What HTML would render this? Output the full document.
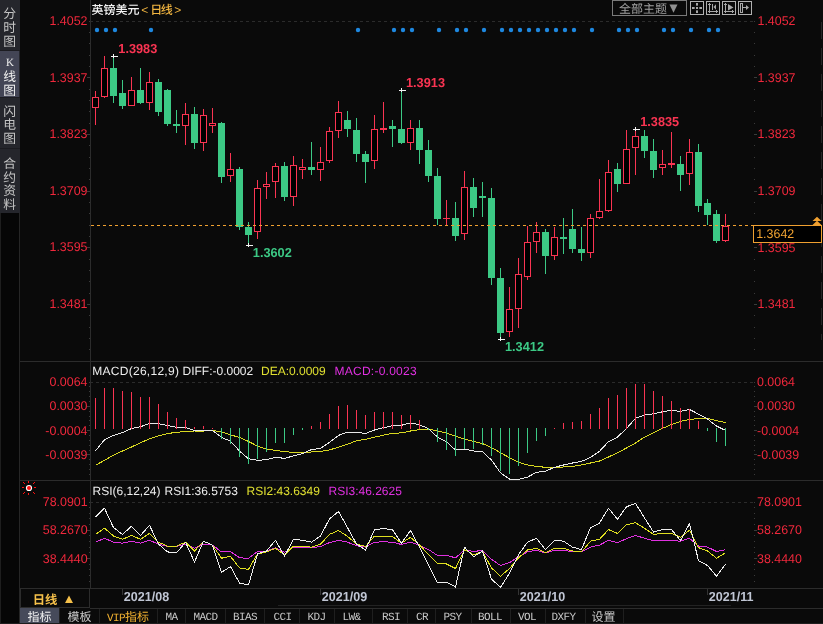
<!DOCTYPE html>
<html><head><meta charset="utf-8"><title>英镑美元</title>
<style>html,body{margin:0;padding:0;background:#0a0a0a;overflow:hidden;}svg{display:block;}</style>
</head><body>
<svg width="823" height="624" viewBox="0 0 823 624" shape-rendering="crispEdges" text-rendering="geometricPrecision">
<rect width="823" height="624" fill="#0a0a0a"/>
<rect x="0" y="0" width="20" height="213" fill="#25262c"/>
<rect x="0" y="51" width="19" height="46" fill="#434555"/>
<rect x="0" y="50" width="20" height="1" fill="#1c1c21"/>
<rect x="0" y="97" width="20" height="1" fill="#1c1c21"/>
<rect x="0" y="148" width="20" height="1" fill="#1c1c21"/>
<rect x="19" y="213" width="1" height="411" fill="#262626"/>
<rect x="0" y="213" width="19" height="411" fill="#060606"/>
<rect x="0" y="213" width="1" height="411" fill="#1e1e1e"/>
<text x="9.7" y="18" fill="#c4c4c4" font-size="12.8" text-anchor="middle" font-weight="normal" font-family="'Liberation Sans', 'Noto Sans CJK SC', sans-serif" >分</text>
<text x="9.7" y="32" fill="#c4c4c4" font-size="12.8" text-anchor="middle" font-weight="normal" font-family="'Liberation Sans', 'Noto Sans CJK SC', sans-serif" >时</text>
<text x="9.7" y="46.2" fill="#c4c4c4" font-size="12.8" text-anchor="middle" font-weight="normal" font-family="'Liberation Sans', 'Noto Sans CJK SC', sans-serif" >图</text>
<text x="10" y="66" fill="#eeeeee" font-size="11" text-anchor="middle" font-weight="normal" font-family="'Liberation Serif', serif" >K</text>
<text x="9.7" y="81" fill="#eeeeee" font-size="12.8" text-anchor="middle" font-weight="normal" font-family="'Liberation Sans', 'Noto Sans CJK SC', sans-serif" >线</text>
<text x="9.7" y="95" fill="#eeeeee" font-size="12.8" text-anchor="middle" font-weight="normal" font-family="'Liberation Sans', 'Noto Sans CJK SC', sans-serif" >图</text>
<text x="9.7" y="116" fill="#c4c4c4" font-size="12.8" text-anchor="middle" font-weight="normal" font-family="'Liberation Sans', 'Noto Sans CJK SC', sans-serif" >闪</text>
<text x="9.7" y="129" fill="#c4c4c4" font-size="12.8" text-anchor="middle" font-weight="normal" font-family="'Liberation Sans', 'Noto Sans CJK SC', sans-serif" >电</text>
<text x="9.7" y="142.5" fill="#c4c4c4" font-size="12.8" text-anchor="middle" font-weight="normal" font-family="'Liberation Sans', 'Noto Sans CJK SC', sans-serif" >图</text>
<text x="9.7" y="167.8" fill="#c4c4c4" font-size="12.8" text-anchor="middle" font-weight="normal" font-family="'Liberation Sans', 'Noto Sans CJK SC', sans-serif" >合</text>
<text x="9.7" y="181.6" fill="#c4c4c4" font-size="12.8" text-anchor="middle" font-weight="normal" font-family="'Liberation Sans', 'Noto Sans CJK SC', sans-serif" >约</text>
<text x="9.7" y="195.4" fill="#c4c4c4" font-size="12.8" text-anchor="middle" font-weight="normal" font-family="'Liberation Sans', 'Noto Sans CJK SC', sans-serif" >资</text>
<text x="9.7" y="209.3" fill="#c4c4c4" font-size="12.8" text-anchor="middle" font-weight="normal" font-family="'Liberation Sans', 'Noto Sans CJK SC', sans-serif" >料</text>
<rect x="90" y="0" width="1" height="588" fill="#2c2c2c"/>
<rect x="89" y="588" width="1" height="19" fill="#2c2c2c"/>
<rect x="20" y="361" width="803" height="1" fill="#2c2c2c"/>
<rect x="20" y="480" width="803" height="1" fill="#2c2c2c"/>
<rect x="20" y="588" width="803" height="1" fill="#2c2c2c"/>
<rect x="20" y="607" width="70" height="1" fill="#2c2c2c"/>
<rect x="90" y="608" width="733" height="1" fill="#2c2c2c"/>
<rect x="278" y="605" width="453" height="1" fill="#222"/>
<line x1="821.5" y1="22" x2="821.5" y2="340" stroke="#262626" stroke-width="1" stroke-dasharray="17 9"/>
<line x1="90" y1="21.5" x2="753" y2="21.5" stroke="#2b2b2b" stroke-width="1" stroke-dasharray="3 3"/>
<line x1="90" y1="382.5" x2="753" y2="382.5" stroke="#2b2b2b" stroke-width="1" stroke-dasharray="3 3"/>
<line x1="90" y1="502.5" x2="753" y2="502.5" stroke="#2b2b2b" stroke-width="1" stroke-dasharray="3 3"/>
<rect x="89" y="21" width="1" height="1" fill="#3a3a3a"/><rect x="89" y="32" width="1" height="1" fill="#3a3a3a"/><rect x="89" y="43" width="1" height="1" fill="#3a3a3a"/><rect x="89" y="55" width="1" height="1" fill="#3a3a3a"/><rect x="89" y="66" width="1" height="1" fill="#3a3a3a"/><rect x="87" y="77" width="3" height="1" fill="#3a3a3a"/><rect x="89" y="89" width="1" height="1" fill="#3a3a3a"/><rect x="89" y="100" width="1" height="1" fill="#3a3a3a"/><rect x="89" y="111" width="1" height="1" fill="#3a3a3a"/><rect x="89" y="123" width="1" height="1" fill="#3a3a3a"/><rect x="87" y="134" width="3" height="1" fill="#3a3a3a"/><rect x="89" y="145" width="1" height="1" fill="#3a3a3a"/><rect x="89" y="157" width="1" height="1" fill="#3a3a3a"/><rect x="89" y="168" width="1" height="1" fill="#3a3a3a"/><rect x="89" y="179" width="1" height="1" fill="#3a3a3a"/><rect x="87" y="191" width="3" height="1" fill="#3a3a3a"/><rect x="89" y="202" width="1" height="1" fill="#3a3a3a"/><rect x="89" y="213" width="1" height="1" fill="#3a3a3a"/><rect x="89" y="225" width="1" height="1" fill="#3a3a3a"/><rect x="89" y="236" width="1" height="1" fill="#3a3a3a"/><rect x="87" y="247" width="3" height="1" fill="#3a3a3a"/><rect x="89" y="259" width="1" height="1" fill="#3a3a3a"/><rect x="89" y="270" width="1" height="1" fill="#3a3a3a"/><rect x="89" y="281" width="1" height="1" fill="#3a3a3a"/><rect x="89" y="293" width="1" height="1" fill="#3a3a3a"/><rect x="87" y="304" width="3" height="1" fill="#3a3a3a"/><rect x="89" y="315" width="1" height="1" fill="#3a3a3a"/><rect x="89" y="327" width="1" height="1" fill="#3a3a3a"/><rect x="89" y="338" width="1" height="1" fill="#3a3a3a"/><rect x="89" y="349" width="1" height="1" fill="#3a3a3a"/>
<rect x="754" y="21" width="1" height="1" fill="#3a3a3a"/><rect x="754" y="32" width="1" height="1" fill="#3a3a3a"/><rect x="754" y="43" width="1" height="1" fill="#3a3a3a"/><rect x="754" y="55" width="1" height="1" fill="#3a3a3a"/><rect x="754" y="66" width="1" height="1" fill="#3a3a3a"/><rect x="754" y="77" width="3" height="1" fill="#3a3a3a"/><rect x="754" y="89" width="1" height="1" fill="#3a3a3a"/><rect x="754" y="100" width="1" height="1" fill="#3a3a3a"/><rect x="754" y="111" width="1" height="1" fill="#3a3a3a"/><rect x="754" y="123" width="1" height="1" fill="#3a3a3a"/><rect x="754" y="134" width="3" height="1" fill="#3a3a3a"/><rect x="754" y="145" width="1" height="1" fill="#3a3a3a"/><rect x="754" y="157" width="1" height="1" fill="#3a3a3a"/><rect x="754" y="168" width="1" height="1" fill="#3a3a3a"/><rect x="754" y="179" width="1" height="1" fill="#3a3a3a"/><rect x="754" y="191" width="3" height="1" fill="#3a3a3a"/><rect x="754" y="202" width="1" height="1" fill="#3a3a3a"/><rect x="754" y="213" width="1" height="1" fill="#3a3a3a"/><rect x="754" y="225" width="1" height="1" fill="#3a3a3a"/><rect x="754" y="236" width="1" height="1" fill="#3a3a3a"/><rect x="754" y="247" width="3" height="1" fill="#3a3a3a"/><rect x="754" y="259" width="1" height="1" fill="#3a3a3a"/><rect x="754" y="270" width="1" height="1" fill="#3a3a3a"/><rect x="754" y="281" width="1" height="1" fill="#3a3a3a"/><rect x="754" y="293" width="1" height="1" fill="#3a3a3a"/><rect x="754" y="304" width="3" height="1" fill="#3a3a3a"/><rect x="754" y="315" width="1" height="1" fill="#3a3a3a"/><rect x="754" y="327" width="1" height="1" fill="#3a3a3a"/><rect x="754" y="338" width="1" height="1" fill="#3a3a3a"/><rect x="754" y="349" width="1" height="1" fill="#3a3a3a"/>
<rect x="89" y="382" width="1" height="1" fill="#3a3a3a"/><rect x="89" y="386" width="1" height="1" fill="#3a3a3a"/><rect x="89" y="391" width="1" height="1" fill="#3a3a3a"/><rect x="89" y="396" width="1" height="1" fill="#3a3a3a"/><rect x="89" y="401" width="1" height="1" fill="#3a3a3a"/><rect x="87" y="406" width="3" height="1" fill="#3a3a3a"/><rect x="89" y="411" width="1" height="1" fill="#3a3a3a"/><rect x="89" y="416" width="1" height="1" fill="#3a3a3a"/><rect x="89" y="420" width="1" height="1" fill="#3a3a3a"/><rect x="89" y="425" width="1" height="1" fill="#3a3a3a"/><rect x="87" y="430" width="3" height="1" fill="#3a3a3a"/><rect x="89" y="435" width="1" height="1" fill="#3a3a3a"/><rect x="89" y="440" width="1" height="1" fill="#3a3a3a"/><rect x="89" y="445" width="1" height="1" fill="#3a3a3a"/><rect x="89" y="450" width="1" height="1" fill="#3a3a3a"/><rect x="87" y="454" width="3" height="1" fill="#3a3a3a"/><rect x="89" y="459" width="1" height="1" fill="#3a3a3a"/><rect x="89" y="464" width="1" height="1" fill="#3a3a3a"/><rect x="89" y="469" width="1" height="1" fill="#3a3a3a"/><rect x="89" y="474" width="1" height="1" fill="#3a3a3a"/>
<rect x="754" y="382" width="1" height="1" fill="#3a3a3a"/><rect x="754" y="386" width="1" height="1" fill="#3a3a3a"/><rect x="754" y="391" width="1" height="1" fill="#3a3a3a"/><rect x="754" y="396" width="1" height="1" fill="#3a3a3a"/><rect x="754" y="401" width="1" height="1" fill="#3a3a3a"/><rect x="754" y="406" width="3" height="1" fill="#3a3a3a"/><rect x="754" y="411" width="1" height="1" fill="#3a3a3a"/><rect x="754" y="416" width="1" height="1" fill="#3a3a3a"/><rect x="754" y="420" width="1" height="1" fill="#3a3a3a"/><rect x="754" y="425" width="1" height="1" fill="#3a3a3a"/><rect x="754" y="430" width="3" height="1" fill="#3a3a3a"/><rect x="754" y="435" width="1" height="1" fill="#3a3a3a"/><rect x="754" y="440" width="1" height="1" fill="#3a3a3a"/><rect x="754" y="445" width="1" height="1" fill="#3a3a3a"/><rect x="754" y="450" width="1" height="1" fill="#3a3a3a"/><rect x="754" y="454" width="3" height="1" fill="#3a3a3a"/><rect x="754" y="459" width="1" height="1" fill="#3a3a3a"/><rect x="754" y="464" width="1" height="1" fill="#3a3a3a"/><rect x="754" y="469" width="1" height="1" fill="#3a3a3a"/><rect x="754" y="474" width="1" height="1" fill="#3a3a3a"/>
<rect x="89" y="502" width="1" height="1" fill="#3a3a3a"/><rect x="89" y="507" width="1" height="1" fill="#3a3a3a"/><rect x="89" y="513" width="1" height="1" fill="#3a3a3a"/><rect x="89" y="518" width="1" height="1" fill="#3a3a3a"/><rect x="89" y="524" width="1" height="1" fill="#3a3a3a"/><rect x="87" y="530" width="3" height="1" fill="#3a3a3a"/><rect x="89" y="535" width="1" height="1" fill="#3a3a3a"/><rect x="89" y="541" width="1" height="1" fill="#3a3a3a"/><rect x="89" y="547" width="1" height="1" fill="#3a3a3a"/><rect x="89" y="552" width="1" height="1" fill="#3a3a3a"/><rect x="87" y="558" width="3" height="1" fill="#3a3a3a"/><rect x="89" y="564" width="1" height="1" fill="#3a3a3a"/><rect x="89" y="569" width="1" height="1" fill="#3a3a3a"/><rect x="89" y="575" width="1" height="1" fill="#3a3a3a"/><rect x="89" y="581" width="1" height="1" fill="#3a3a3a"/>
<rect x="754" y="502" width="1" height="1" fill="#3a3a3a"/><rect x="754" y="507" width="1" height="1" fill="#3a3a3a"/><rect x="754" y="513" width="1" height="1" fill="#3a3a3a"/><rect x="754" y="518" width="1" height="1" fill="#3a3a3a"/><rect x="754" y="524" width="1" height="1" fill="#3a3a3a"/><rect x="754" y="530" width="3" height="1" fill="#3a3a3a"/><rect x="754" y="535" width="1" height="1" fill="#3a3a3a"/><rect x="754" y="541" width="1" height="1" fill="#3a3a3a"/><rect x="754" y="547" width="1" height="1" fill="#3a3a3a"/><rect x="754" y="552" width="1" height="1" fill="#3a3a3a"/><rect x="754" y="558" width="3" height="1" fill="#3a3a3a"/><rect x="754" y="564" width="1" height="1" fill="#3a3a3a"/><rect x="754" y="569" width="1" height="1" fill="#3a3a3a"/><rect x="754" y="575" width="1" height="1" fill="#3a3a3a"/><rect x="754" y="581" width="1" height="1" fill="#3a3a3a"/>
<circle cx="97" cy="30" r="2.2" fill="#1e88e0" shape-rendering="geometricPrecision"/>
<circle cx="106" cy="30" r="2.2" fill="#1e88e0" shape-rendering="geometricPrecision"/>
<circle cx="115" cy="30" r="2.2" fill="#1e88e0" shape-rendering="geometricPrecision"/>
<circle cx="151" cy="30" r="2.2" fill="#1e88e0" shape-rendering="geometricPrecision"/>
<circle cx="358" cy="30" r="2.2" fill="#1e88e0" shape-rendering="geometricPrecision"/>
<circle cx="394" cy="30" r="2.2" fill="#1e88e0" shape-rendering="geometricPrecision"/>
<circle cx="403" cy="30" r="2.2" fill="#1e88e0" shape-rendering="geometricPrecision"/>
<circle cx="412" cy="30" r="2.2" fill="#1e88e0" shape-rendering="geometricPrecision"/>
<circle cx="439" cy="30" r="2.2" fill="#1e88e0" shape-rendering="geometricPrecision"/>
<circle cx="457" cy="30" r="2.2" fill="#1e88e0" shape-rendering="geometricPrecision"/>
<circle cx="466" cy="30" r="2.2" fill="#1e88e0" shape-rendering="geometricPrecision"/>
<circle cx="484" cy="30" r="2.2" fill="#1e88e0" shape-rendering="geometricPrecision"/>
<circle cx="502" cy="30" r="2.2" fill="#1e88e0" shape-rendering="geometricPrecision"/>
<circle cx="511" cy="30" r="2.2" fill="#1e88e0" shape-rendering="geometricPrecision"/>
<circle cx="520" cy="30" r="2.2" fill="#1e88e0" shape-rendering="geometricPrecision"/>
<circle cx="529" cy="30" r="2.2" fill="#1e88e0" shape-rendering="geometricPrecision"/>
<circle cx="538" cy="30" r="2.2" fill="#1e88e0" shape-rendering="geometricPrecision"/>
<circle cx="547" cy="30" r="2.2" fill="#1e88e0" shape-rendering="geometricPrecision"/>
<circle cx="556" cy="30" r="2.2" fill="#1e88e0" shape-rendering="geometricPrecision"/>
<circle cx="565" cy="30" r="2.2" fill="#1e88e0" shape-rendering="geometricPrecision"/>
<circle cx="574" cy="30" r="2.2" fill="#1e88e0" shape-rendering="geometricPrecision"/>
<circle cx="592" cy="30" r="2.2" fill="#1e88e0" shape-rendering="geometricPrecision"/>
<circle cx="619" cy="30" r="2.2" fill="#1e88e0" shape-rendering="geometricPrecision"/>
<circle cx="628" cy="30" r="2.2" fill="#1e88e0" shape-rendering="geometricPrecision"/>
<circle cx="637" cy="30" r="2.2" fill="#1e88e0" shape-rendering="geometricPrecision"/>
<circle cx="664" cy="30" r="2.2" fill="#1e88e0" shape-rendering="geometricPrecision"/>
<circle cx="673" cy="30" r="2.2" fill="#1e88e0" shape-rendering="geometricPrecision"/>
<circle cx="691" cy="30" r="2.2" fill="#1e88e0" shape-rendering="geometricPrecision"/>
<circle cx="709" cy="30" r="2.2" fill="#1e88e0" shape-rendering="geometricPrecision"/>
<circle cx="718" cy="30" r="2.2" fill="#1e88e0" shape-rendering="geometricPrecision"/>
<rect x="95" y="91" width="1" height="34" fill="#fa3452"/>
<rect x="92.5" y="97.5" width="6" height="10" fill="#000" stroke="#fa3452" stroke-width="1"/>
<rect x="104" y="56" width="1" height="42" fill="#fa3452"/>
<rect x="101.5" y="68.5" width="6" height="28" fill="#000" stroke="#fa3452" stroke-width="1"/>
<rect x="113" y="56" width="1" height="47" fill="#3cc985"/>
<rect x="110" y="68" width="7" height="28" fill="#3cc985"/>
<rect x="122" y="80" width="1" height="29" fill="#3cc985"/>
<rect x="119" y="93" width="7" height="13" fill="#3cc985"/>
<rect x="131" y="77" width="1" height="29" fill="#fa3452"/>
<rect x="128.5" y="90.5" width="6" height="15" fill="#000" stroke="#fa3452" stroke-width="1"/>
<rect x="140" y="68" width="1" height="36" fill="#3cc985"/>
<rect x="137" y="90" width="7" height="13" fill="#3cc985"/>
<rect x="149" y="72" width="1" height="38" fill="#fa3452"/>
<rect x="146.5" y="82.5" width="6" height="20" fill="#000" stroke="#fa3452" stroke-width="1"/>
<rect x="158" y="79" width="1" height="37" fill="#3cc985"/>
<rect x="155" y="82" width="7" height="30" fill="#3cc985"/>
<rect x="167" y="89" width="1" height="37" fill="#3cc985"/>
<rect x="164" y="90" width="7" height="34" fill="#3cc985"/>
<rect x="176" y="110" width="1" height="23" fill="#3cc985"/>
<rect x="173" y="124" width="7" height="2" fill="#3cc985"/>
<rect x="185" y="103" width="1" height="42" fill="#fa3452"/>
<rect x="182.5" y="114.5" width="6" height="11" fill="#000" stroke="#fa3452" stroke-width="1"/>
<rect x="194" y="107" width="1" height="42" fill="#3cc985"/>
<rect x="191" y="114" width="7" height="29" fill="#3cc985"/>
<rect x="203" y="109" width="1" height="42" fill="#fa3452"/>
<rect x="200.5" y="115.5" width="6" height="27" fill="#000" stroke="#fa3452" stroke-width="1"/>
<rect x="212" y="108" width="1" height="25" fill="#fa3452"/>
<rect x="209.5" y="123.5" width="6" height="2" fill="#000" stroke="#fa3452" stroke-width="1"/>
<rect x="221" y="122" width="1" height="61" fill="#3cc985"/>
<rect x="218" y="123" width="7" height="54" fill="#3cc985"/>
<rect x="230" y="153" width="1" height="29" fill="#fa3452"/>
<rect x="227.5" y="169.5" width="6" height="6" fill="#000" stroke="#fa3452" stroke-width="1"/>
<rect x="239" y="167" width="1" height="63" fill="#3cc985"/>
<rect x="236" y="169" width="7" height="58" fill="#3cc985"/>
<rect x="248" y="222" width="1" height="23" fill="#3cc985"/>
<rect x="245" y="227" width="7" height="8" fill="#3cc985"/>
<rect x="257" y="180" width="1" height="59" fill="#fa3452"/>
<rect x="254.5" y="188.5" width="6" height="43" fill="#000" stroke="#fa3452" stroke-width="1"/>
<rect x="266" y="172" width="1" height="27" fill="#fa3452"/>
<rect x="263.5" y="184.5" width="6" height="2" fill="#000" stroke="#fa3452" stroke-width="1"/>
<rect x="275" y="163" width="1" height="35" fill="#fa3452"/>
<rect x="272.5" y="166.5" width="6" height="15" fill="#000" stroke="#fa3452" stroke-width="1"/>
<rect x="284" y="162" width="1" height="39" fill="#3cc985"/>
<rect x="281" y="166" width="7" height="31" fill="#3cc985"/>
<rect x="293" y="156" width="1" height="50" fill="#fa3452"/>
<rect x="290.5" y="165.5" width="6" height="31" fill="#000" stroke="#fa3452" stroke-width="1"/>
<rect x="302" y="159" width="1" height="20" fill="#fa3452"/>
<rect x="299.5" y="167.5" width="6" height="2" fill="#000" stroke="#fa3452" stroke-width="1"/>
<rect x="311" y="142" width="1" height="33" fill="#3cc985"/>
<rect x="308" y="167" width="7" height="3" fill="#3cc985"/>
<rect x="320" y="147" width="1" height="34" fill="#fa3452"/>
<rect x="317.5" y="162.5" width="6" height="7" fill="#000" stroke="#fa3452" stroke-width="1"/>
<rect x="329" y="127" width="1" height="36" fill="#fa3452"/>
<rect x="326.5" y="131.5" width="6" height="29" fill="#000" stroke="#fa3452" stroke-width="1"/>
<rect x="338" y="101" width="1" height="37" fill="#fa3452"/>
<rect x="335.5" y="112.5" width="6" height="18" fill="#000" stroke="#fa3452" stroke-width="1"/>
<rect x="347" y="111" width="1" height="26" fill="#3cc985"/>
<rect x="344" y="120" width="7" height="9" fill="#3cc985"/>
<rect x="356" y="118" width="1" height="44" fill="#3cc985"/>
<rect x="353" y="130" width="7" height="24" fill="#3cc985"/>
<rect x="365" y="151" width="1" height="32" fill="#3cc985"/>
<rect x="362" y="154" width="7" height="8" fill="#3cc985"/>
<rect x="374" y="115" width="1" height="54" fill="#fa3452"/>
<rect x="371.5" y="129.5" width="6" height="31" fill="#000" stroke="#fa3452" stroke-width="1"/>
<rect x="383" y="102" width="1" height="31" fill="#fa3452"/>
<rect x="380.5" y="128.5" width="6" height="1" fill="#000" stroke="#fa3452" stroke-width="1"/>
<rect x="392" y="120" width="1" height="27" fill="#3cc985"/>
<rect x="389" y="126" width="7" height="3" fill="#3cc985"/>
<rect x="401" y="90" width="1" height="54" fill="#3cc985"/>
<rect x="398" y="129" width="7" height="14" fill="#3cc985"/>
<rect x="410" y="120" width="1" height="30" fill="#fa3452"/>
<rect x="407.5" y="128.5" width="6" height="14" fill="#000" stroke="#fa3452" stroke-width="1"/>
<rect x="419" y="120" width="1" height="44" fill="#3cc985"/>
<rect x="416" y="128" width="7" height="22" fill="#3cc985"/>
<rect x="428" y="140" width="1" height="42" fill="#3cc985"/>
<rect x="425" y="150" width="7" height="26" fill="#3cc985"/>
<rect x="437" y="168" width="1" height="57" fill="#3cc985"/>
<rect x="434" y="176" width="7" height="43" fill="#3cc985"/>
<rect x="446" y="200" width="1" height="25" fill="#fa3452"/>
<rect x="443" y="218" width="7" height="1" fill="#fa3452"/>
<rect x="455" y="202" width="1" height="39" fill="#3cc985"/>
<rect x="452" y="218" width="7" height="18" fill="#3cc985"/>
<rect x="464" y="171" width="1" height="69" fill="#fa3452"/>
<rect x="461.5" y="187.5" width="6" height="46" fill="#000" stroke="#fa3452" stroke-width="1"/>
<rect x="473" y="178" width="1" height="39" fill="#3cc985"/>
<rect x="470" y="187" width="7" height="21" fill="#3cc985"/>
<rect x="482" y="182" width="1" height="35" fill="#3cc985"/>
<rect x="479" y="196" width="7" height="2" fill="#3cc985"/>
<rect x="491" y="188" width="1" height="97" fill="#3cc985"/>
<rect x="488" y="198" width="7" height="80" fill="#3cc985"/>
<rect x="500" y="268" width="1" height="71" fill="#3cc985"/>
<rect x="497" y="278" width="7" height="55" fill="#3cc985"/>
<rect x="509" y="287" width="1" height="50" fill="#fa3452"/>
<rect x="506.5" y="309.5" width="6" height="22" fill="#000" stroke="#fa3452" stroke-width="1"/>
<rect x="518" y="258" width="1" height="70" fill="#fa3452"/>
<rect x="515.5" y="274.5" width="6" height="34" fill="#000" stroke="#fa3452" stroke-width="1"/>
<rect x="527" y="226" width="1" height="54" fill="#fa3452"/>
<rect x="524.5" y="242.5" width="6" height="34" fill="#000" stroke="#fa3452" stroke-width="1"/>
<rect x="536" y="222" width="1" height="31" fill="#fa3452"/>
<rect x="533.5" y="232.5" width="6" height="9" fill="#000" stroke="#fa3452" stroke-width="1"/>
<rect x="545" y="229" width="1" height="45" fill="#3cc985"/>
<rect x="542" y="232" width="7" height="24" fill="#3cc985"/>
<rect x="554" y="227" width="1" height="33" fill="#fa3452"/>
<rect x="551.5" y="237.5" width="6" height="18" fill="#000" stroke="#fa3452" stroke-width="1"/>
<rect x="563" y="218" width="1" height="36" fill="#3cc985"/>
<rect x="560" y="237" width="7" height="2" fill="#3cc985"/>
<rect x="572" y="209" width="1" height="44" fill="#3cc985"/>
<rect x="569" y="229" width="7" height="20" fill="#3cc985"/>
<rect x="581" y="227" width="1" height="34" fill="#3cc985"/>
<rect x="578" y="249" width="7" height="4" fill="#3cc985"/>
<rect x="590" y="214" width="1" height="44" fill="#fa3452"/>
<rect x="587.5" y="218.5" width="6" height="34" fill="#000" stroke="#fa3452" stroke-width="1"/>
<rect x="599" y="179" width="1" height="40" fill="#fa3452"/>
<rect x="596.5" y="211.5" width="6" height="6" fill="#000" stroke="#fa3452" stroke-width="1"/>
<rect x="608" y="160" width="1" height="52" fill="#fa3452"/>
<rect x="605.5" y="172.5" width="6" height="38" fill="#000" stroke="#fa3452" stroke-width="1"/>
<rect x="617" y="163" width="1" height="29" fill="#3cc985"/>
<rect x="614" y="169" width="7" height="15" fill="#3cc985"/>
<rect x="626" y="130" width="1" height="54" fill="#fa3452"/>
<rect x="623.5" y="149.5" width="6" height="34" fill="#000" stroke="#fa3452" stroke-width="1"/>
<rect x="635" y="130" width="1" height="45" fill="#fa3452"/>
<rect x="632.5" y="136.5" width="6" height="11" fill="#000" stroke="#fa3452" stroke-width="1"/>
<rect x="644" y="130" width="1" height="28" fill="#3cc985"/>
<rect x="641" y="136" width="7" height="15" fill="#3cc985"/>
<rect x="653" y="139" width="1" height="39" fill="#3cc985"/>
<rect x="650" y="151" width="7" height="19" fill="#3cc985"/>
<rect x="662" y="150" width="1" height="25" fill="#fa3452"/>
<rect x="659.5" y="164.5" width="6" height="3" fill="#000" stroke="#fa3452" stroke-width="1"/>
<rect x="671" y="132" width="1" height="36" fill="#fa3452"/>
<rect x="668.5" y="163.5" width="6" height="1" fill="#000" stroke="#fa3452" stroke-width="1"/>
<rect x="680" y="156" width="1" height="35" fill="#3cc985"/>
<rect x="677" y="164" width="7" height="11" fill="#3cc985"/>
<rect x="689" y="139" width="1" height="46" fill="#fa3452"/>
<rect x="686.5" y="152.5" width="6" height="21" fill="#000" stroke="#fa3452" stroke-width="1"/>
<rect x="698" y="144" width="1" height="68" fill="#3cc985"/>
<rect x="695" y="152" width="7" height="54" fill="#3cc985"/>
<rect x="707" y="199" width="1" height="26" fill="#3cc985"/>
<rect x="704" y="203" width="7" height="12" fill="#3cc985"/>
<rect x="716" y="210" width="1" height="33" fill="#3cc985"/>
<rect x="713" y="214" width="7" height="27" fill="#3cc985"/>
<rect x="725" y="214" width="1" height="28" fill="#fa3452"/>
<rect x="722.5" y="226.5" width="6" height="14" fill="#000" stroke="#fa3452" stroke-width="1"/>
<rect x="111" y="56" width="7" height="1" fill="#f4f4f4"/><rect x="113" y="54" width="1" height="4" fill="#f4f4f4"/>
<rect x="246" y="245" width="7" height="1" fill="#f4f4f4"/><rect x="248" y="243" width="1" height="4" fill="#f4f4f4"/>
<rect x="399" y="90" width="7" height="1" fill="#f4f4f4"/><rect x="401" y="88" width="1" height="4" fill="#f4f4f4"/>
<rect x="498" y="339" width="7" height="1" fill="#f4f4f4"/><rect x="500" y="337" width="1" height="4" fill="#f4f4f4"/>
<rect x="633" y="129" width="7" height="1" fill="#f4f4f4"/><rect x="635" y="127" width="1" height="4" fill="#f4f4f4"/>
<line x1="91" y1="225.5" x2="753" y2="225.5" stroke="#f0a030" stroke-width="1" stroke-dasharray="3 3"/>
<text transform="translate(118.3,53.3) scale(0.98,1)" fill="#fa3452" font-size="13" font-weight="bold" font-family="'Liberation Sans', 'Noto Sans CJK SC', sans-serif">1.3983</text>
<text transform="translate(252.8,257) scale(0.98,1)" fill="#3cc985" font-size="13" font-weight="bold" font-family="'Liberation Sans', 'Noto Sans CJK SC', sans-serif">1.3602</text>
<text transform="translate(406,87.2) scale(0.98,1)" fill="#fa3452" font-size="13" font-weight="bold" font-family="'Liberation Sans', 'Noto Sans CJK SC', sans-serif">1.3913</text>
<text transform="translate(505,350.7) scale(0.98,1)" fill="#3cc985" font-size="13" font-weight="bold" font-family="'Liberation Sans', 'Noto Sans CJK SC', sans-serif">1.3412</text>
<text transform="translate(640.2,126.2) scale(0.98,1)" fill="#fa3452" font-size="13" font-weight="bold" font-family="'Liberation Sans', 'Noto Sans CJK SC', sans-serif">1.3835</text>
<rect x="753.5" y="225.5" width="68" height="17" fill="#000" stroke="#f0a030" stroke-width="1"/>
<text transform="translate(756.2,238.2) scale(0.98,1)" fill="#f2a432" font-size="12.7" text-anchor="start" font-family="'Liberation Sans', 'Noto Sans CJK SC', sans-serif">1.3642</text>
<path d="M812.5,221 L817,216.8 L821.5,221 Z M812.5,225 L817,220.8 L821.5,225 Z" fill="#f0a030" shape-rendering="geometricPrecision"/>
<text transform="translate(87.5,25) scale(0.98,1)" fill="#f0283c" font-size="12.7" text-anchor="end" font-family="'Liberation Sans', 'Noto Sans CJK SC', sans-serif">1.4052</text>
<text transform="translate(757.5,25) scale(0.98,1)" fill="#f0283c" font-size="12.7" text-anchor="start" font-family="'Liberation Sans', 'Noto Sans CJK SC', sans-serif">1.4052</text>
<text transform="translate(87.5,81.5) scale(0.98,1)" fill="#f0283c" font-size="12.7" text-anchor="end" font-family="'Liberation Sans', 'Noto Sans CJK SC', sans-serif">1.3937</text>
<text transform="translate(757.5,81.5) scale(0.98,1)" fill="#f0283c" font-size="12.7" text-anchor="start" font-family="'Liberation Sans', 'Noto Sans CJK SC', sans-serif">1.3937</text>
<text transform="translate(87.5,138.3) scale(0.98,1)" fill="#f0283c" font-size="12.7" text-anchor="end" font-family="'Liberation Sans', 'Noto Sans CJK SC', sans-serif">1.3823</text>
<text transform="translate(757.5,138.3) scale(0.98,1)" fill="#f0283c" font-size="12.7" text-anchor="start" font-family="'Liberation Sans', 'Noto Sans CJK SC', sans-serif">1.3823</text>
<text transform="translate(87.5,194.8) scale(0.98,1)" fill="#f0283c" font-size="12.7" text-anchor="end" font-family="'Liberation Sans', 'Noto Sans CJK SC', sans-serif">1.3709</text>
<text transform="translate(757.5,194.8) scale(0.98,1)" fill="#f0283c" font-size="12.7" text-anchor="start" font-family="'Liberation Sans', 'Noto Sans CJK SC', sans-serif">1.3709</text>
<text transform="translate(87.5,251) scale(0.98,1)" fill="#f0283c" font-size="12.7" text-anchor="end" font-family="'Liberation Sans', 'Noto Sans CJK SC', sans-serif">1.3595</text>
<text transform="translate(757.5,252) scale(0.98,1)" fill="#f0283c" font-size="12.7" text-anchor="start" font-family="'Liberation Sans', 'Noto Sans CJK SC', sans-serif">1.3595</text>
<text transform="translate(87.5,307.5) scale(0.98,1)" fill="#f0283c" font-size="12.7" text-anchor="end" font-family="'Liberation Sans', 'Noto Sans CJK SC', sans-serif">1.3481</text>
<text transform="translate(757.5,307.5) scale(0.98,1)" fill="#f0283c" font-size="12.7" text-anchor="start" font-family="'Liberation Sans', 'Noto Sans CJK SC', sans-serif">1.3481</text>
<text x="91.5" y="14.4" fill="#f4f4f4" font-size="12" text-anchor="start" font-weight="500" font-family="'Liberation Sans', 'Noto Sans CJK SC', sans-serif" >英镑美元</text>
<text x="141.2" y="14.4" fill="#f0b440" font-size="12" text-anchor="start" font-weight="500" font-family="'Liberation Sans', 'Noto Sans CJK SC', sans-serif" >&lt;</text>
<text x="150.2" y="14.4" fill="#f0b440" font-size="12" text-anchor="start" font-weight="500" font-family="'Liberation Sans', 'Noto Sans CJK SC', sans-serif" >日</text>
<text x="160.8" y="14.4" fill="#f0b440" font-size="12" text-anchor="start" font-weight="500" font-family="'Liberation Sans', 'Noto Sans CJK SC', sans-serif" >线</text>
<text x="174.3" y="14.4" fill="#f0b440" font-size="12" text-anchor="start" font-weight="500" font-family="'Liberation Sans', 'Noto Sans CJK SC', sans-serif" >&gt;</text>
<rect x="612.5" y="0.5" width="74" height="15" fill="none" stroke="#7a7a7a"/>
<text x="619" y="13" fill="#a0a0a0" font-size="12" text-anchor="start" font-weight="normal" font-family="'Liberation Sans', 'Noto Sans CJK SC', sans-serif" >全部主题</text>
<path d="M669.5,4.5 L677.5,4.5 L673.5,12.8 Z" fill="#909090" shape-rendering="geometricPrecision"/>
<rect x="690.5" y="1.5" width="13" height="13" fill="none" stroke="#b0b0b0"/>
<rect x="706.5" y="1.5" width="13" height="13" fill="none" stroke="#b0b0b0"/>
<rect x="722.5" y="1.5" width="13" height="13" fill="none" stroke="#b0b0b0"/>
<rect x="738.5" y="1.5" width="13" height="13" fill="none" stroke="#b0b0b0"/>
<rect x="696" y="3" width="2" height="2" fill="#a8a8a8"/><rect x="696" y="5" width="2" height="1" fill="#707070"/><rect x="696" y="7" width="2" height="2" fill="#a8a8a8"/><rect x="696" y="10" width="2" height="1" fill="#707070"/><rect x="696" y="11" width="2" height="2" fill="#a8a8a8"/><rect x="692" y="7" width="2" height="2" fill="#a8a8a8"/><rect x="694" y="7" width="1" height="2" fill="#707070"/><rect x="699" y="7" width="1" height="2" fill="#707070"/><rect x="700" y="7" width="2" height="2" fill="#a8a8a8"/>
<rect x="709" y="3" width="1" height="10" fill="#a8a8a8"/><rect x="708" y="4" width="3" height="1" fill="#a8a8a8"/><rect x="708" y="11" width="10" height="1" fill="#a8a8a8"/><rect x="716" y="10" width="1" height="3" fill="#a8a8a8"/><rect x="709" y="12" width="1" height="1" fill="#a8a8a8"/>
<rect x="712" y="4" width="1" height="6" fill="#a8a8a8"/>
<path d="M713.5,7 L716,4.2 L716,9.8 Z" fill="#a8a8a8" shape-rendering="geometricPrecision"/>
<rect x="725" y="3" width="1" height="10" fill="#a8a8a8"/><rect x="724" y="4" width="3" height="1" fill="#a8a8a8"/><rect x="724" y="11" width="10" height="1" fill="#a8a8a8"/><rect x="732" y="10" width="1" height="3" fill="#a8a8a8"/><rect x="725" y="12" width="1" height="1" fill="#a8a8a8"/>
<path d="M728,4 L733.5,7.5 L728,10.5 Z" fill="#a8a8a8" shape-rendering="geometricPrecision"/>
<rect x="740.5" y="3.5" width="2" height="9" fill="none" stroke="#a8a8a8"/>
<rect x="743" y="7" width="5" height="1" fill="#a8a8a8"/>
<path d="M746,5 L749,7.5 L746,10 Z" fill="#a8a8a8" shape-rendering="geometricPrecision"/>
<polyline points="95.5,465.4 104.5,460.2 113.5,455.3 122.5,451.0 131.5,447.0 140.5,442.7 149.5,438.8 158.5,435.9 167.5,433.5 176.5,432.4 185.5,431.4 194.5,431.0 203.5,431.0 212.5,430.4 221.5,432.0 230.5,434.9 239.5,437.4 248.5,441.5 257.5,446.1 266.5,449.0 275.5,450.4 284.5,451.6 293.5,452.4 302.5,452.4 311.5,452.0 320.5,451.4 329.5,450.0 338.5,447.1 347.5,444.2 356.5,440.8 365.5,439.3 374.5,437.2 383.5,435.1 392.5,433.3 401.5,432.9 410.5,431.0 419.5,429.6 428.5,429.0 437.5,431.0 446.5,433.2 455.5,436.1 464.5,439.0 473.5,441.5 482.5,443.6 491.5,447.5 500.5,452.8 509.5,457.7 518.5,462.1 527.5,465.0 536.5,466.4 545.5,467.3 554.5,467.3 563.5,467.0 572.5,466.5 581.5,465.0 590.5,463.0 599.5,461.0 608.5,457.0 617.5,452.7 626.5,448.0 635.5,443.0 644.5,437.1 653.5,432.8 662.5,428.4 671.5,424.4 680.5,421.4 689.5,419.5 698.5,418.5 707.5,418.5 716.5,420.6 725.5,422.6" fill="none" stroke="#d8d820" stroke-width="1" stroke-linejoin="round"/>
<polyline points="95.5,450.8 104.5,439.8 113.5,435.4 122.5,432.5 131.5,428.6 140.5,426.7 149.5,423.6 158.5,423.6 167.5,425.5 176.5,427.4 185.5,427.4 194.5,430.4 203.5,430.4 212.5,430.4 221.5,437.4 230.5,441.2 239.5,451.0 248.5,458.8 257.5,460.2 266.5,459.8 275.5,457.2 284.5,458.4 293.5,455.9 302.5,453.5 311.5,449.6 320.5,448.5 329.5,442.3 338.5,435.4 347.5,432.1 356.5,432.1 365.5,433.5 374.5,430.0 383.5,427.7 392.5,425.7 401.5,425.3 410.5,422.8 419.5,424.9 428.5,428.6 437.5,437.1 446.5,441.9 455.5,450.0 464.5,449.0 473.5,451.0 482.5,451.6 491.5,460.1 500.5,472.8 509.5,479.1 518.5,479.4 527.5,477.1 536.5,472.3 545.5,471.2 554.5,467.3 563.5,465.0 572.5,463.0 581.5,461.4 590.5,457.5 599.5,451.3 608.5,441.6 617.5,437.1 626.5,428.4 635.5,418.3 644.5,415.1 653.5,413.8 662.5,411.8 671.5,410.3 680.5,411.4 689.5,409.5 698.5,414.1 707.5,419.0 716.5,426.1 725.5,430.4" fill="none" stroke="#e8e8e8" stroke-width="1" stroke-linejoin="round"/>
<rect x="95" y="398" width="1" height="31" fill="#fa3452"/>
<rect x="104" y="388" width="1" height="41" fill="#fa3452"/>
<rect x="113" y="388" width="1" height="41" fill="#fa3452"/>
<rect x="122" y="391" width="1" height="38" fill="#fa3452"/>
<rect x="131" y="392" width="1" height="37" fill="#fa3452"/>
<rect x="140" y="397" width="1" height="32" fill="#fa3452"/>
<rect x="149" y="397" width="1" height="32" fill="#fa3452"/>
<rect x="158" y="404" width="1" height="25" fill="#fa3452"/>
<rect x="167" y="412" width="1" height="17" fill="#fa3452"/>
<rect x="176" y="418" width="1" height="11" fill="#fa3452"/>
<rect x="185" y="420" width="1" height="9" fill="#fa3452"/>
<rect x="194" y="427" width="1" height="2" fill="#fa3452"/>
<rect x="203" y="426" width="1" height="3" fill="#fa3452"/>
<rect x="212" y="428" width="1" height="1" fill="#fa3452"/>
<rect x="221" y="428" width="1" height="11" fill="#3cc985"/>
<rect x="230" y="428" width="1" height="16" fill="#3cc985"/>
<rect x="239" y="428" width="1" height="29" fill="#3cc985"/>
<rect x="248" y="428" width="1" height="36" fill="#3cc985"/>
<rect x="257" y="428" width="1" height="31" fill="#3cc985"/>
<rect x="266" y="428" width="1" height="24" fill="#3cc985"/>
<rect x="275" y="428" width="1" height="15" fill="#3cc985"/>
<rect x="284" y="428" width="1" height="15" fill="#3cc985"/>
<rect x="293" y="428" width="1" height="7" fill="#3cc985"/>
<rect x="302" y="428" width="1" height="2" fill="#3cc985"/>
<rect x="311" y="426" width="1" height="3" fill="#fa3452"/>
<rect x="320" y="422" width="1" height="7" fill="#fa3452"/>
<rect x="329" y="414" width="1" height="15" fill="#fa3452"/>
<rect x="338" y="406" width="1" height="23" fill="#fa3452"/>
<rect x="347" y="405" width="1" height="24" fill="#fa3452"/>
<rect x="356" y="410" width="1" height="19" fill="#fa3452"/>
<rect x="365" y="415" width="1" height="14" fill="#fa3452"/>
<rect x="374" y="412" width="1" height="17" fill="#fa3452"/>
<rect x="383" y="412" width="1" height="17" fill="#fa3452"/>
<rect x="392" y="412" width="1" height="17" fill="#fa3452"/>
<rect x="401" y="415" width="1" height="14" fill="#fa3452"/>
<rect x="410" y="415" width="1" height="14" fill="#fa3452"/>
<rect x="419" y="420" width="1" height="9" fill="#fa3452"/>
<rect x="428" y="428" width="1" height="2" fill="#3cc985"/>
<rect x="437" y="428" width="1" height="14" fill="#3cc985"/>
<rect x="446" y="428" width="1" height="22" fill="#3cc985"/>
<rect x="455" y="428" width="1" height="28" fill="#3cc985"/>
<rect x="464" y="428" width="1" height="21" fill="#3cc985"/>
<rect x="473" y="428" width="1" height="21" fill="#3cc985"/>
<rect x="482" y="428" width="1" height="17" fill="#3cc985"/>
<rect x="491" y="428" width="1" height="28" fill="#3cc985"/>
<rect x="500" y="428" width="1" height="43" fill="#3cc985"/>
<rect x="509" y="428" width="1" height="46" fill="#3cc985"/>
<rect x="518" y="428" width="1" height="38" fill="#3cc985"/>
<rect x="527" y="428" width="1" height="25" fill="#3cc985"/>
<rect x="536" y="428" width="1" height="13" fill="#3cc985"/>
<rect x="545" y="428" width="1" height="8" fill="#3cc985"/>
<rect x="554" y="428" width="1" height="1" fill="#fa3452"/>
<rect x="563" y="423" width="1" height="6" fill="#fa3452"/>
<rect x="572" y="422" width="1" height="7" fill="#fa3452"/>
<rect x="581" y="421" width="1" height="8" fill="#fa3452"/>
<rect x="590" y="414" width="1" height="15" fill="#fa3452"/>
<rect x="599" y="408" width="1" height="21" fill="#fa3452"/>
<rect x="608" y="398" width="1" height="31" fill="#fa3452"/>
<rect x="617" y="395" width="1" height="34" fill="#fa3452"/>
<rect x="626" y="388" width="1" height="41" fill="#fa3452"/>
<rect x="635" y="384" width="1" height="45" fill="#fa3452"/>
<rect x="644" y="384" width="1" height="45" fill="#fa3452"/>
<rect x="653" y="391" width="1" height="38" fill="#fa3452"/>
<rect x="662" y="396" width="1" height="33" fill="#fa3452"/>
<rect x="671" y="401" width="1" height="28" fill="#fa3452"/>
<rect x="680" y="408" width="1" height="21" fill="#fa3452"/>
<rect x="689" y="409" width="1" height="20" fill="#fa3452"/>
<rect x="698" y="421" width="1" height="8" fill="#fa3452"/>
<rect x="707" y="428" width="1" height="3" fill="#3cc985"/>
<rect x="716" y="428" width="1" height="14" fill="#3cc985"/>
<rect x="725" y="428" width="1" height="18" fill="#3cc985"/>
<text x="92.3" y="375" fill="#eeeeee" font-size="12" text-anchor="start" font-weight="normal" font-family="'Liberation Sans', 'Noto Sans CJK SC', sans-serif" letter-spacing="0.27">MACD(26,12,9)</text>
<text x="182.5" y="375" fill="#eeeeee" font-size="12" text-anchor="start" font-weight="normal" font-family="'Liberation Sans', 'Noto Sans CJK SC', sans-serif" >DIFF:-0.0002</text>
<text x="261" y="375" fill="#e0e030" font-size="12" text-anchor="start" font-weight="normal" font-family="'Liberation Sans', 'Noto Sans CJK SC', sans-serif" >DEA:0.0009</text>
<text x="334.5" y="375" fill="#e030e0" font-size="12" text-anchor="start" font-weight="normal" font-family="'Liberation Sans', 'Noto Sans CJK SC', sans-serif" letter-spacing="0.25">MACD:-0.0023</text>
<text transform="translate(87.5,386.4) scale(0.98,1)" fill="#f0283c" font-size="12.7" text-anchor="end" font-family="'Liberation Sans', 'Noto Sans CJK SC', sans-serif">0.0064</text>
<text transform="translate(757,386.4) scale(0.98,1)" fill="#f0283c" font-size="12.7" text-anchor="start" font-family="'Liberation Sans', 'Noto Sans CJK SC', sans-serif">0.0064</text>
<text transform="translate(87.5,410.3) scale(0.98,1)" fill="#f0283c" font-size="12.7" text-anchor="end" font-family="'Liberation Sans', 'Noto Sans CJK SC', sans-serif">0.0030</text>
<text transform="translate(757,410.3) scale(0.98,1)" fill="#f0283c" font-size="12.7" text-anchor="start" font-family="'Liberation Sans', 'Noto Sans CJK SC', sans-serif">0.0030</text>
<text transform="translate(87.5,435.3) scale(0.98,1)" fill="#f0283c" font-size="12.7" text-anchor="end" font-family="'Liberation Sans', 'Noto Sans CJK SC', sans-serif">-0.0004</text>
<text transform="translate(757,435.3) scale(0.98,1)" fill="#f0283c" font-size="12.7" text-anchor="start" font-family="'Liberation Sans', 'Noto Sans CJK SC', sans-serif">-0.0004</text>
<text transform="translate(87.5,459.3) scale(0.98,1)" fill="#f0283c" font-size="12.7" text-anchor="end" font-family="'Liberation Sans', 'Noto Sans CJK SC', sans-serif">-0.0039</text>
<text transform="translate(757,459.3) scale(0.98,1)" fill="#f0283c" font-size="12.7" text-anchor="start" font-family="'Liberation Sans', 'Noto Sans CJK SC', sans-serif">-0.0039</text>
<polyline points="95.5,542.2 104.5,538.3 113.5,542.2 122.5,543.2 131.5,541.2 140.5,543.2 149.5,540.3 158.5,544.1 167.5,546.5 176.5,546.5 185.5,544.1 194.5,548.4 203.5,544.1 212.5,545.1 221.5,551.9 230.5,551.5 239.5,557.8 248.5,558.3 257.5,551.5 266.5,551.0 275.5,548.0 284.5,552.3 293.5,547.1 302.5,547.7 311.5,548.0 320.5,546.5 329.5,542.6 338.5,540.3 347.5,542.2 356.5,545.7 365.5,547.1 374.5,542.2 383.5,541.8 392.5,542.2 401.5,544.5 410.5,542.2 419.5,545.1 428.5,549.6 437.5,555.4 446.5,555.4 455.5,557.8 464.5,550.0 473.5,551.5 482.5,550.4 491.5,559.3 500.5,565.5 509.5,562.6 518.5,556.8 527.5,551.9 536.5,550.2 545.5,552.9 554.5,550.4 563.5,550.4 572.5,551.5 581.5,551.9 590.5,547.1 599.5,545.1 608.5,540.3 617.5,542.6 626.5,538.7 635.5,535.4 644.5,538.3 653.5,540.6 662.5,540.6 671.5,540.6 680.5,541.2 689.5,538.3 698.5,546.1 707.5,547.1 716.5,551.5 725.5,549.6" fill="none" stroke="#e030e0" stroke-width="1" stroke-linejoin="round"/>
<polyline points="95.5,534.4 104.5,528.2 113.5,536.0 122.5,539.3 131.5,535.4 140.5,539.3 149.5,533.4 158.5,542.2 167.5,546.1 176.5,546.1 185.5,542.2 194.5,551.0 203.5,541.2 212.5,545.1 221.5,558.2 230.5,556.4 239.5,567.9 248.5,569.4 257.5,553.9 266.5,551.9 275.5,548.4 284.5,554.8 293.5,546.1 302.5,546.5 311.5,547.1 320.5,544.1 329.5,534.4 338.5,530.5 347.5,536.4 356.5,544.1 365.5,546.5 374.5,536.0 383.5,536.0 392.5,536.4 401.5,543.2 410.5,537.3 419.5,545.1 428.5,554.3 437.5,563.6 446.5,564.0 455.5,568.5 464.5,549.6 473.5,554.8 482.5,551.5 491.5,567.9 500.5,576.2 509.5,568.5 518.5,557.8 527.5,550.0 536.5,548.4 545.5,552.9 554.5,548.4 563.5,548.4 572.5,551.0 581.5,551.9 590.5,541.2 599.5,539.3 608.5,529.6 617.5,533.4 626.5,524.7 635.5,522.7 644.5,528.2 653.5,534.4 662.5,533.4 671.5,533.4 680.5,537.2 689.5,530.3 698.5,547.6 707.5,551.0 716.5,558.2 725.5,552.9" fill="none" stroke="#e0e020" stroke-width="1" stroke-linejoin="round"/>
<polyline points="95.5,516.9 104.5,508.2 113.5,527.6 122.5,534.4 131.5,526.2 140.5,535.4 149.5,525.3 158.5,544.1 167.5,551.9 176.5,552.9 185.5,542.2 194.5,562.0 203.5,541.2 212.5,545.1 221.5,572.4 230.5,566.5 239.5,583.1 248.5,585.0 257.5,553.9 266.5,551.0 275.5,540.3 284.5,556.2 293.5,539.3 302.5,540.3 311.5,542.2 320.5,536.0 329.5,518.9 338.5,511.5 347.5,527.6 356.5,544.1 365.5,550.0 374.5,529.6 383.5,528.6 392.5,529.6 401.5,543.2 410.5,530.5 419.5,547.1 428.5,565.2 437.5,583.0 446.5,582.1 455.5,587.0 464.5,547.1 473.5,556.8 482.5,551.0 491.5,579.2 500.5,587.3 509.5,573.3 518.5,554.8 527.5,542.2 536.5,538.3 545.5,549.6 554.5,540.3 563.5,541.2 572.5,547.1 581.5,549.6 590.5,527.6 599.5,523.1 608.5,508.2 617.5,519.2 626.5,506.8 635.5,503.3 644.5,517.9 653.5,532.1 662.5,529.6 671.5,529.6 680.5,540.6 689.5,523.7 698.5,560.7 707.5,565.5 716.5,576.2 725.5,564.0" fill="none" stroke="#eeeeee" stroke-width="1" stroke-linejoin="round"/>
<text x="92.5" y="495" fill="#eeeeee" font-size="12" text-anchor="start" font-weight="normal" font-family="'Liberation Sans', 'Noto Sans CJK SC', sans-serif" >RSI(6,12,24)</text>
<text x="164.5" y="495" fill="#eeeeee" font-size="12" text-anchor="start" font-weight="normal" font-family="'Liberation Sans', 'Noto Sans CJK SC', sans-serif" >RSI1:36.5753</text>
<text x="246.5" y="495" fill="#e0e030" font-size="12" text-anchor="start" font-weight="normal" font-family="'Liberation Sans', 'Noto Sans CJK SC', sans-serif" >RSI2:43.6349</text>
<text x="328.5" y="495" fill="#e030e0" font-size="12" text-anchor="start" font-weight="normal" font-family="'Liberation Sans', 'Noto Sans CJK SC', sans-serif" >RSI3:46.2625</text>
<text transform="translate(87.7,506.2) scale(0.98,1)" fill="#f0283c" font-size="12.7" text-anchor="end" font-family="'Liberation Sans', 'Noto Sans CJK SC', sans-serif">78.0901</text>
<text transform="translate(757,506.2) scale(0.98,1)" fill="#f0283c" font-size="12.7" text-anchor="start" font-family="'Liberation Sans', 'Noto Sans CJK SC', sans-serif">78.0901</text>
<text transform="translate(87.7,534.4) scale(0.98,1)" fill="#f0283c" font-size="12.7" text-anchor="end" font-family="'Liberation Sans', 'Noto Sans CJK SC', sans-serif">58.2670</text>
<text transform="translate(757,534.4) scale(0.98,1)" fill="#f0283c" font-size="12.7" text-anchor="start" font-family="'Liberation Sans', 'Noto Sans CJK SC', sans-serif">58.2670</text>
<text transform="translate(87.7,563) scale(0.98,1)" fill="#f0283c" font-size="12.7" text-anchor="end" font-family="'Liberation Sans', 'Noto Sans CJK SC', sans-serif">38.4440</text>
<text transform="translate(757,563) scale(0.98,1)" fill="#f0283c" font-size="12.7" text-anchor="start" font-family="'Liberation Sans', 'Noto Sans CJK SC', sans-serif">38.4440</text>
<g fill="#ff1010"><rect x="28" y="481" width="1" height="2"/><rect x="28" y="493" width="1" height="2"/><rect x="22" y="487" width="2" height="1"/><rect x="34" y="487" width="2" height="1"/><rect x="23" y="482" width="1" height="1"/><rect x="24" y="483" width="1" height="1"/><rect x="34" y="482" width="1" height="1"/><rect x="33" y="483" width="1" height="1"/><rect x="24" y="492" width="1" height="1"/><rect x="23" y="493" width="1" height="1"/><rect x="33" y="492" width="1" height="1"/><rect x="34" y="493" width="1" height="1"/></g>
<circle cx="29" cy="488" r="3.1" fill="#ffffff" shape-rendering="geometricPrecision"/><circle cx="29" cy="488" r="2" fill="#ff1010" shape-rendering="geometricPrecision"/>
<rect x="122" y="589" width="1" height="6" fill="#333"/>
<text transform="translate(123.8,601) scale(0.965,1)" fill="#c0c6d4" font-size="13" font-weight="bold" font-family="'Liberation Sans', 'Noto Sans CJK SC', sans-serif">2021/08</text>
<rect x="320" y="589" width="1" height="6" fill="#333"/>
<text transform="translate(321.8,601) scale(0.965,1)" fill="#c0c6d4" font-size="13" font-weight="bold" font-family="'Liberation Sans', 'Noto Sans CJK SC', sans-serif">2021/09</text>
<rect x="518" y="589" width="1" height="6" fill="#333"/>
<text transform="translate(519.8,601) scale(0.965,1)" fill="#c0c6d4" font-size="13" font-weight="bold" font-family="'Liberation Sans', 'Noto Sans CJK SC', sans-serif">2021/10</text>
<rect x="707" y="589" width="1" height="6" fill="#333"/>
<text transform="translate(708.8,601) scale(0.965,1)" fill="#c0c6d4" font-size="13" font-weight="bold" font-family="'Liberation Sans', 'Noto Sans CJK SC', sans-serif">2021/11</text>
<text x="32.8" y="604" fill="#f5c04a" font-size="12.3" text-anchor="start" font-weight="bold" font-family="'Liberation Sans', 'Noto Sans CJK SC', sans-serif" >日线</text>
<path d="M65,603 L73,603 L69,595.5 Z" fill="#f5c04a" shape-rendering="geometricPrecision"/>
<rect x="20" y="588" width="1" height="36" fill="#2c2c2c"/>
<rect x="20" y="608" width="39" height="15" fill="#464a5a"/>
<rect x="59" y="608" width="1" height="16" fill="#1f1f1f"/>
<rect x="99" y="609" width="1" height="16" fill="#1f1f1f"/>
<rect x="157" y="609" width="1" height="16" fill="#1f1f1f"/>
<rect x="185" y="609" width="1" height="16" fill="#1f1f1f"/>
<rect x="225" y="609" width="1" height="16" fill="#1f1f1f"/>
<rect x="264" y="609" width="1" height="16" fill="#1f1f1f"/>
<rect x="299" y="609" width="1" height="16" fill="#1f1f1f"/>
<rect x="334" y="609" width="1" height="16" fill="#1f1f1f"/>
<rect x="372" y="609" width="1" height="16" fill="#1f1f1f"/>
<rect x="407" y="609" width="1" height="16" fill="#1f1f1f"/>
<rect x="435" y="609" width="1" height="16" fill="#1f1f1f"/>
<rect x="471" y="609" width="1" height="16" fill="#1f1f1f"/>
<rect x="510" y="609" width="1" height="16" fill="#1f1f1f"/>
<rect x="545" y="609" width="1" height="16" fill="#1f1f1f"/>
<rect x="585" y="609" width="1" height="16" fill="#1f1f1f"/>
<rect x="623" y="609" width="1" height="16" fill="#1f1f1f"/>
<text x="39.5" y="621" fill="#f0f0f0" font-size="12" text-anchor="middle" font-weight="normal" font-family="'Liberation Sans', 'Noto Sans CJK SC', sans-serif" >指标</text>
<text x="79.5" y="621" fill="#c8c8c8" font-size="12" text-anchor="middle" font-weight="normal" font-family="'Liberation Sans', 'Noto Sans CJK SC', sans-serif" >模板</text>
<text x="125" y="621" fill="#f0b030" font-size="11" text-anchor="end" font-weight="normal" font-family="'Liberation Mono', monospace" letter-spacing="-0.6">VIP</text>
<text x="125" y="621" fill="#f0b030" font-size="12" text-anchor="start" font-weight="normal" font-family="'Liberation Sans', 'Noto Sans CJK SC', sans-serif" >指标</text>
<text x="171.5" y="619.5" fill="#c8c8c8" font-size="11" text-anchor="middle" font-weight="normal" font-family="'Liberation Mono', monospace" letter-spacing="-0.6">MA</text>
<text x="205.5" y="619.5" fill="#c8c8c8" font-size="11" text-anchor="middle" font-weight="normal" font-family="'Liberation Mono', monospace" letter-spacing="-0.6">MACD</text>
<text x="245" y="619.5" fill="#c8c8c8" font-size="11" text-anchor="middle" font-weight="normal" font-family="'Liberation Mono', monospace" letter-spacing="-0.6">BIAS</text>
<text x="282.5" y="619.5" fill="#c8c8c8" font-size="11" text-anchor="middle" font-weight="normal" font-family="'Liberation Mono', monospace" letter-spacing="-0.6">CCI</text>
<text x="316.5" y="619.5" fill="#c8c8c8" font-size="11" text-anchor="middle" font-weight="normal" font-family="'Liberation Mono', monospace" letter-spacing="-0.6">KDJ</text>
<text x="351.5" y="619.5" fill="#c8c8c8" font-size="11" text-anchor="middle" font-weight="normal" font-family="'Liberation Mono', monospace" letter-spacing="-0.6">LW&amp;</text>
<text x="391" y="619.5" fill="#c8c8c8" font-size="11" text-anchor="middle" font-weight="normal" font-family="'Liberation Mono', monospace" letter-spacing="-0.6">RSI</text>
<text x="422" y="619.5" fill="#c8c8c8" font-size="11" text-anchor="middle" font-weight="normal" font-family="'Liberation Mono', monospace" letter-spacing="-0.6">CR</text>
<text x="452.5" y="619.5" fill="#c8c8c8" font-size="11" text-anchor="middle" font-weight="normal" font-family="'Liberation Mono', monospace" letter-spacing="-0.6">PSY</text>
<text x="490" y="619.5" fill="#c8c8c8" font-size="11" text-anchor="middle" font-weight="normal" font-family="'Liberation Mono', monospace" letter-spacing="-0.6">BOLL</text>
<text x="527" y="619.5" fill="#c8c8c8" font-size="11" text-anchor="middle" font-weight="normal" font-family="'Liberation Mono', monospace" letter-spacing="-0.6">VOL</text>
<text x="563.5" y="619.5" fill="#c8c8c8" font-size="11" text-anchor="middle" font-weight="normal" font-family="'Liberation Mono', monospace" letter-spacing="-0.6">DXFY</text>
<text x="603.5" y="621" fill="#c8c8c8" font-size="12" text-anchor="middle" font-weight="normal" font-family="'Liberation Sans', 'Noto Sans CJK SC', sans-serif" >设置</text>
<rect x="0" y="623" width="823" height="1" fill="#1e1e1e"/>
</svg>
</body></html>
